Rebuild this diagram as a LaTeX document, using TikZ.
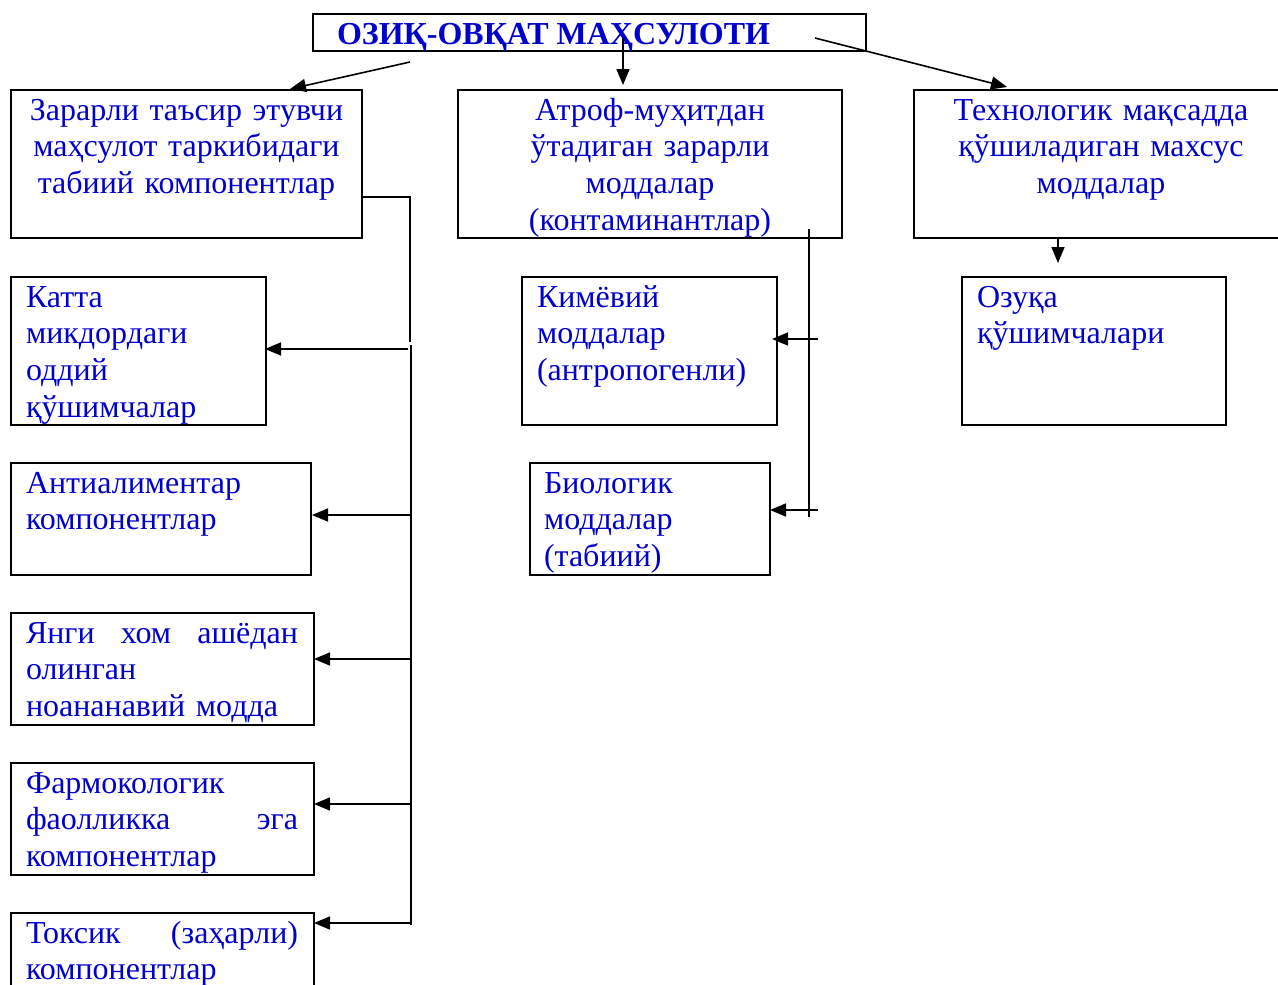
\documentclass[tikz,border=0pt]{standalone}
\usepackage{fontspec}
\setmainfont{Liberation Serif}
\usetikzlibrary{arrows.meta,calc}
\definecolor{txtblue}{RGB}{0,0,204}
\begin{document}
\begin{tikzpicture}[x=1pt,y=-1pt,
  box/.style={draw=black,line width=2pt,inner sep=0pt,outer sep=0pt,anchor=north west},
  lbl/.style={text=txtblue,inner sep=0pt,outer sep=0pt,font=\fontsize{32}{36.7}\selectfont},
  ltxt/.style={lbl,text width=300pt,align=left,anchor=base west},
  ctxt/.style={lbl,text width=#1,align=center,anchor=base},
  ctxt/.default=380pt,
  conn/.style={line width=1.6pt},
  arr/.style={conn,-{Triangle[length=16pt,width=13pt]}},
]
\useasboundingbox (0,0) rectangle (1278,985);

% boxes
\node[box,minimum width=553pt,minimum height=37pt] (title) at (313,14) {};
\node[box,minimum width=351pt,minimum height=148pt,line width=1.6pt] (b1) at (11,90) {};
\node[box,minimum width=384pt,minimum height=148pt,line width=1.6pt] (b2) at (458,90) {};
\node[box,minimum width=376pt,minimum height=148pt,line width=1.2pt] (b3) at (914,90) {};
\node[box,minimum width=255pt,minimum height=148pt] (c1) at (11,277) {};
\node[box,minimum width=300pt,minimum height=112pt] (c2) at (11,463) {};
\node[box,minimum width=303pt,minimum height=112pt] (c3) at (11,613) {};
\node[box,minimum width=303pt,minimum height=112pt] (c4) at (11,763) {};
\node[box,minimum width=303pt,minimum height=112pt] (c5) at (11,913) {};
\node[box,minimum width=255pt,minimum height=148pt] (m1) at (522,277) {};
\node[box,minimum width=240pt,minimum height=112pt] (m2) at (530,463) {};
\node[box,minimum width=264pt,minimum height=148pt] (r1) at (962,277) {};

% texts
\node[lbl,anchor=base west,font=\fontsize{32}{36.7}\selectfont\bfseries] (ttitle) at (337,44) {ОЗИҚ-ОВҚАТ МАҲСУЛОТИ};
\node[ctxt=360pt] (tb1) at (186.5,120) {Зарарли таъсир этувчи\\маҳсулот таркибидаги\\табиий компонентлар};
\node[ctxt=380pt] (tb2) at (650,120) {Атроф-муҳитдан\\ўтадиган зарарли\\моддалар\\(контаминантлар)};
\node[ctxt=370pt] (tb3) at (1101,120) {Технологик мақсадда\\қўшиладиган махсус\\моддалар};
\node[ltxt] (tc1) at (26,307) {Катта\\микдордаги\\оддий\\қўшимчалар};
\node[ltxt] (tc2) at (26,493) {Антиалиментар\\компонентлар};
\node[ltxt] (tc3) at (26,643) {\makebox[272pt][l]{Янги\hfill хом\hfill ашёдан}\\олинган\\ноананавий модда};
\node[ltxt] (tc4) at (26,793) {Фармокологик\\\makebox[272pt][l]{фаолликка\hfill эга}\\компонентлар};
\node[ltxt] (tc5) at (26,943) {\makebox[272pt][l]{Токсик\hfill (заҳарли)}\\компонентлар};
\node[ltxt] (tm1) at (537,307) {Кимёвий\\моддалар\\(антропогенли)};
\node[ltxt] (tm2) at (544,493) {Биологик\\моддалар\\(табиий)};
\node[ltxt] (tr1) at (977,307) {Озуқа\\қўшимчалари};

% connectors from the title
\coordinate (tL) at (410,62);
\coordinate (tM) at (623,38);
\coordinate (tR) at (815,38);
\draw[arr] (tL) -- ($(b1.north west)+(279,-1)$);
\draw[arr] (tM) -- ($(b2.north west)+(165,-5)$);
\draw[arr] (tR) -- ($(b3.north west)+(93,-3)$);
\draw[arr] ($(b3.south west)+(144,0)$) -- ($(r1.north west)+(96,-14)$);

% left tree
\coordinate (j1) at (410,197);
\coordinate (j2) at (410,342);
\coordinate (v1) at (411,345);
\coordinate (v2) at (411,925);
\draw[conn] ($(b1.north east)+(0,107)$) -- (j1) -- (j2);
\draw[conn] (v1) -- (v2);
\coordinate (a1) at (408,349);
\coordinate (a2) at (411,515);
\coordinate (a3) at (411,659);
\coordinate (a4) at (411,804);
\coordinate (a5) at (411,923);
\draw[arr] (a1) -- ($(c1.north east)+(-1,72)$);
\draw[arr] (a2) -- ($(c2.north east)+(1,52)$);
\draw[arr] (a3) -- ($(c3.north east)+(0,46)$);
\draw[arr] (a4) -- ($(c4.north east)+(0,41)$);
\draw[arr] (a5) -- ($(c5.north east)+(0,10)$);

% middle tree
\coordinate (mv1) at (809,229);
\coordinate (mv2) at (809,517);
\draw[conn] (mv1) -- (mv2);
\coordinate (ma1) at (818,339);
\coordinate (ma2) at (818,510);
\draw[arr] (ma1) -- ($(m1.north east)+(-5,62)$);
\draw[arr] (ma2) -- ($(m2.north east)+(0,47)$);
\end{tikzpicture}
\end{document}
